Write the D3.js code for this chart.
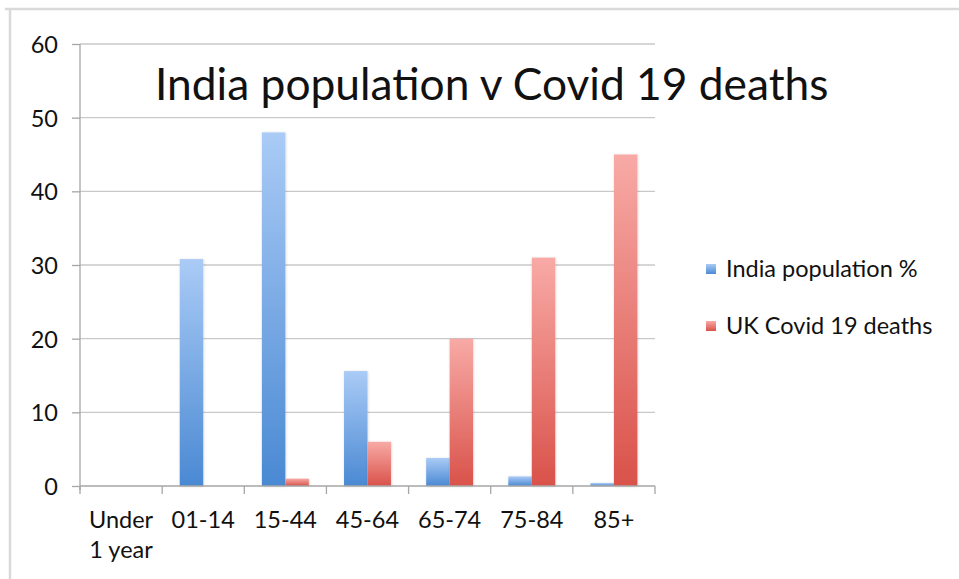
<!DOCTYPE html>
<html>
<head>
<meta charset="utf-8">
<script src="https://cdn.jsdelivr.net/npm/d3@7"></script>
<style>
  html, body { margin: 0; padding: 0; background: #fff; }
  svg { display: block; }
  text { font-family: Lato, "Open Sans", sans-serif; fill: #111; }
</style>
</head>
<body>
<svg id="chart" width="959" height="579"></svg>
<script>
// Age bands and the two series plotted against them
const categories = ["Under\n1 year", "01-14", "15-44", "45-64", "65-74", "75-84", "85+"];
const seriesNames = ["India population %", "UK Covid 19 deaths"];
const indiaPopulation = [0, 30.8, 48, 15.6, 3.8, 1.3, 0.4];
const ukDeaths = [0, 0, 1, 6, 20, 31, 45];
const yTicks = [0, 10, 20, 30, 40, 50, 60];
const titleText = "India population v Covid 19 deaths";

const seriesValues = [indiaPopulation, ukDeaths];
const rows = categories.map((c, i) => ({
  category: c,
  values: seriesNames.map((s, k) => ({ key: s, value: seriesValues[k][i] }))
}));

const svg = d3.select("#chart");
const W = 959, H = 579;
const plot = { left: 80, right: 655, top: 44, bottom: 486 };
const labelSize = 23.5;

// Light frame along the top and left edges
svg.append("line").attr("x1", 5).attr("x2", W).attr("y1", 9).attr("y2", 9)
  .attr("stroke", "#d9d9d9").attr("stroke-width", 2.5);
svg.append("line").attr("x1", 10).attr("x2", 10).attr("y1", 8).attr("y2", H)
  .attr("stroke", "#d9d9d9").attr("stroke-width", 2.5);

// Gradients: lighter at the top of each bar, deeper at the base
const defs = svg.append("defs");
const palette = [
  { id: "gradBlue", top: "#aacbf6", bottom: "#4a89d3" },
  { id: "gradRed", top: "#f8aaa6", bottom: "#d9524a" }
];
palette.forEach(p => {
  const g = defs.append("linearGradient").attr("id", p.id)
    .attr("x1", 0).attr("y1", 0).attr("x2", 0).attr("y2", 1);
  g.append("stop").attr("offset", "0%").attr("stop-color", p.top);
  g.append("stop").attr("offset", "100%").attr("stop-color", p.bottom);
});
const shadow = defs.append("filter").attr("id", "soft")
  .attr("x", "-20%").attr("y", "-5%").attr("width", "140%").attr("height", "110%");
shadow.append("feDropShadow").attr("dx", 0.5).attr("dy", 0.5).attr("stdDeviation", 0.8)
  .attr("flood-color", "#000").attr("flood-opacity", 0.18);

const x0 = d3.scaleBand().domain(categories).range([plot.left, plot.right]).padding(0);
const x1 = d3.scaleBand().domain(seriesNames).range([0, x0.bandwidth()])
  .paddingInner(0).paddingOuter(0.75);
const y = d3.scaleLinear().domain([0, 60]).range([plot.bottom, plot.top]);
const fills = d3.scaleOrdinal().domain(seriesNames).range(["url(#gradBlue)", "url(#gradRed)"]);

// Horizontal gridlines
svg.append("g")
  .selectAll("line").data(yTicks.filter(t => t > 0)).join("line")
  .attr("x1", plot.left).attr("x2", plot.right)
  .attr("y1", d => y(d)).attr("y2", d => y(d))
  .attr("stroke", "#c9c9c9").attr("stroke-width", 1.3);

// Y axis
const yAxis = svg.append("g").attr("transform", `translate(${plot.left},0)`)
  .call(d3.axisLeft(y).tickValues(yTicks).tickSize(8).tickPadding(14).tickSizeOuter(0));
yAxis.select(".domain").attr("stroke", "#a6a6a6").attr("stroke-width", 1.3)
  .attr("d", `M0,${plot.top}V${plot.bottom + 4}`);
yAxis.selectAll(".tick line").attr("stroke", "#a6a6a6").attr("stroke-width", 1.3);
yAxis.selectAll(".tick text").attr("font-size", labelSize).attr("font-family", "Lato, sans-serif")
  .attr("fill", "#111").attr("dy", "0.36em");

// Bars
svg.append("g")
  .selectAll("g").data(rows).join("g")
  .attr("transform", d => `translate(${x0(d.category)},0)`)
  .selectAll("rect").data(d => d.values.filter(v => v.value > 0)).join("rect")
  .attr("x", d => x1(d.key))
  .attr("width", x1.bandwidth())
  .attr("y", d => y(d.value))
  .attr("height", d => y(0) - y(d.value))
  .attr("fill", d => fills(d.key))
  .attr("filter", "url(#soft)");

// X axis with category ticks at band boundaries
const xAxisG = svg.append("g").attr("transform", `translate(0,${plot.bottom})`);
xAxisG.append("line").attr("x1", plot.left).attr("x2", plot.right)
  .attr("stroke", "#a6a6a6").attr("stroke-width", 1.3);
const bounds = categories.map(c => x0(c)).concat([plot.right]);
xAxisG.selectAll("line.tick").data(bounds).join("line").attr("class", "tick")
  .attr("x1", d => d).attr("x2", d => d).attr("y1", 0).attr("y2", 8)
  .attr("stroke", "#a6a6a6").attr("stroke-width", 1.3);
const labels = xAxisG.selectAll("text").data(categories).join("text")
  .attr("x", d => x0(d) + x0.bandwidth() / 2)
  .attr("text-anchor", "middle").attr("font-size", labelSize);
labels.selectAll("tspan").data(d => d.split("\n")).join("tspan")
  .attr("x", function () { return d3.select(this.parentNode).attr("x"); })
  .attr("y", (d, i) => 42 + i * 30)
  .text(d => d);

// Title
svg.append("text").attr("x", 155).attr("y", 100)
  .attr("font-size", 44.3).text(titleText);

// Legend
const legend = svg.append("g").selectAll("g").data(seriesNames).join("g")
  .attr("transform", (d, i) => `translate(706,${264 + i * 57})`);
legend.append("rect").attr("width", 10).attr("height", 10)
  .attr("fill", d => fills(d));
legend.append("text").attr("x", 20).attr("y", 5).attr("dy", "0.36em")
  .attr("font-size", labelSize).text(d => d);
</script>
</body>
</html>
